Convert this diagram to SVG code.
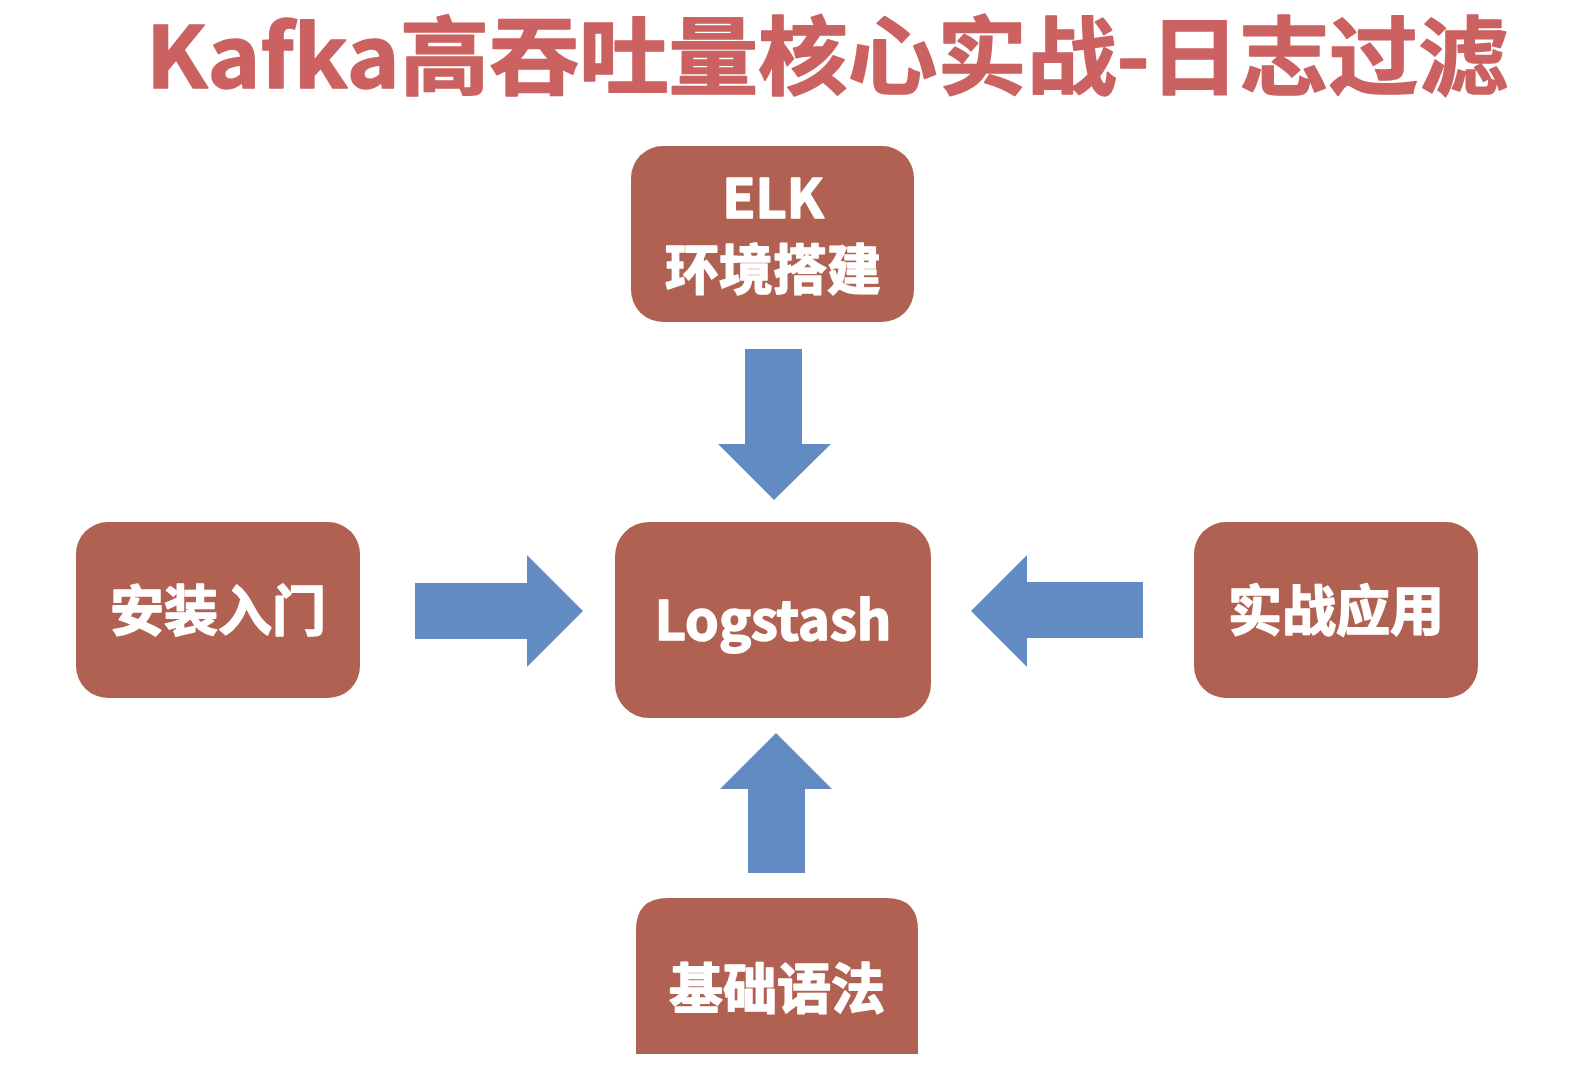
<svg xmlns="http://www.w3.org/2000/svg" width="1584" height="1082" viewBox="0 0 1584 1082">
<style>
.node{fill:#B06151;}
.lbl{fill:#ffffff;stroke:#ffffff;stroke-width:1.6px;stroke-linejoin:round;font-family:"Noto Sans CJK SC","Noto Sans",sans-serif;font-weight:bold;font-size:54px;text-anchor:middle;}
.arrow{fill:#628BC3;}
.title{fill:#CB6261;stroke:#CB6261;stroke-width:1.6px;stroke-linejoin:round;font-family:"Noto Sans CJK SC","Noto Sans",sans-serif;font-weight:bold;font-size:85px;}
</style>
<rect width="1584" height="1082" fill="#ffffff"/>
<text class="title" x="146" y="88" textLength="1362" lengthAdjust="spacingAndGlyphs">Kafka高吞吐量核心实战-日志过滤</text>
<g id="connectors">
<polygon class="arrow" points="745,349 802,349 802,444 831,444 774,500 718,444 745,444"/>
<polygon class="arrow" points="415,583 527,583 527,555 583,611 527,667 527,639 415,639"/>
<polygon class="arrow" points="1143,582 1027,582 1027,555 971,611 1027,667 1027,638 1143,638"/>
<polygon class="arrow" points="748,873 748,789 720,789 776,733 832,789 805,789 805,873"/>
</g>
<g id="node-elk">
<rect class="node" x="631" y="146" width="283" height="176" rx="32"/>
<text class="lbl" x="773" y="218" font-size="51">ELK</text>
<text class="lbl" x="773" y="290" font-size="52">环境搭建</text>
</g>
<g id="node-install">
<rect class="node" x="76" y="522" width="284" height="176" rx="32"/>
<text class="lbl" x="218" y="631">安装入门</text>
</g>
<g id="node-logstash">
<rect class="node" x="615" y="522" width="316" height="196" rx="34"/>
<text class="lbl" x="773" y="640" font-size="56">Logstash</text>
</g>
<g id="node-practice">
<rect class="node" x="1194" y="522" width="284" height="176" rx="32"/>
<text class="lbl" x="1336" y="631">实战应用</text>
</g>
<g id="node-syntax">
<path class="node" d="M636,1054 L636,930 Q636,898 668,898 L886,898 Q918,898 918,930 L918,1054 Z"/>
<text class="lbl" x="777" y="1009">基础语法</text>
</g>
</svg>
